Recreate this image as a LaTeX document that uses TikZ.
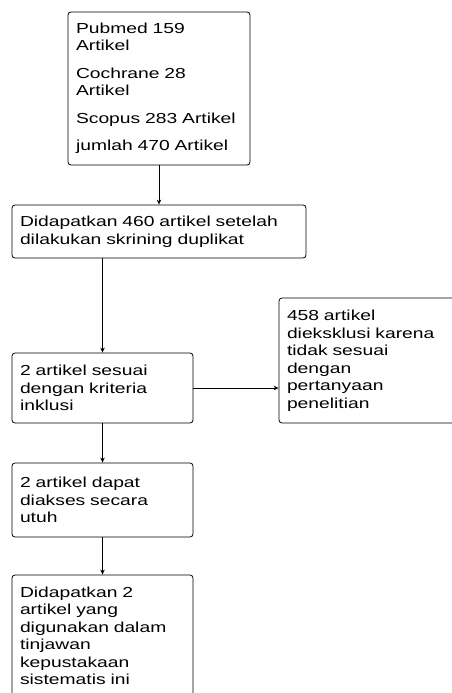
\documentclass[tikz,border=0pt]{standalone}
\usepackage{fontspec}
\setmainfont[FakeStretch=1.33]{Liberation Sans}
\usetikzlibrary{arrows.meta}

\begin{document}
\begin{tikzpicture}[
    x=1pt, y=-1pt,
    box/.style={rectangle, draw, rounded corners=3pt, line width=0.8pt, inner xsep=8pt, inner ysep=0pt,
                align=left, font=\fontsize{14.5}{17.5}\selectfont},
    arrow/.style={-{Stealth[length=5pt,width=4.5pt]}, line width=0.8pt}
]
    \useasboundingbox (0,0) rectangle (451,693);

    % Pencarian awal
    \node[box, text width=166pt, minimum height=153pt] (sumber) at (159,88.5)
        {Pubmed 159\\Artikel\\[10pt]Cochrane 28\\Artikel\\[10pt]Scopus 283 Artikel\\[10pt]jumlah 470 Artikel};

    % Skrining duplikat
    \node[box, text width=278pt, minimum height=53pt] (skrining) at (159,231.5)
        {Didapatkan 460 artikel setelah\\dilakukan skrining duplikat};

    \draw[arrow] (sumber) -- (skrining);

    % Kriteria inklusi
    \node[box, text width=165pt, minimum height=70pt] (inklusi) at (102.5,388)
        {2 artikel sesuai\\dengan kriteria\\inklusi};
    \node[box, text width=164pt, minimum height=125pt] (eksklusi) at (369,360.5)
        {458 artikel\\dieksklusi karena\\tidak sesuai\\dengan\\pertanyaan\\penelitian};

    \draw[arrow] (skrining.south -| inklusi.north) -- (inklusi.north);
    \draw[arrow] (inklusi.east) -- (inklusi.east -| eksklusi.west);

    % Akses teks lengkap
    \node[box, text width=165pt, minimum height=74pt] (akses) at (102.5,500)
        {2 artikel dapat\\diakses secara\\utuh};
    \node[box, text width=165pt, minimum height=122pt] (hasil) at (102.5,636)
        {Didapatkan 2\\artikel yang\\digunakan dalam\\tinjawan\\kepustakaan\\sistematis ini};

    \draw[arrow] (inklusi) -- (akses);
    \draw[arrow] (akses) -- (hasil);
\end{tikzpicture}
\end{document}
